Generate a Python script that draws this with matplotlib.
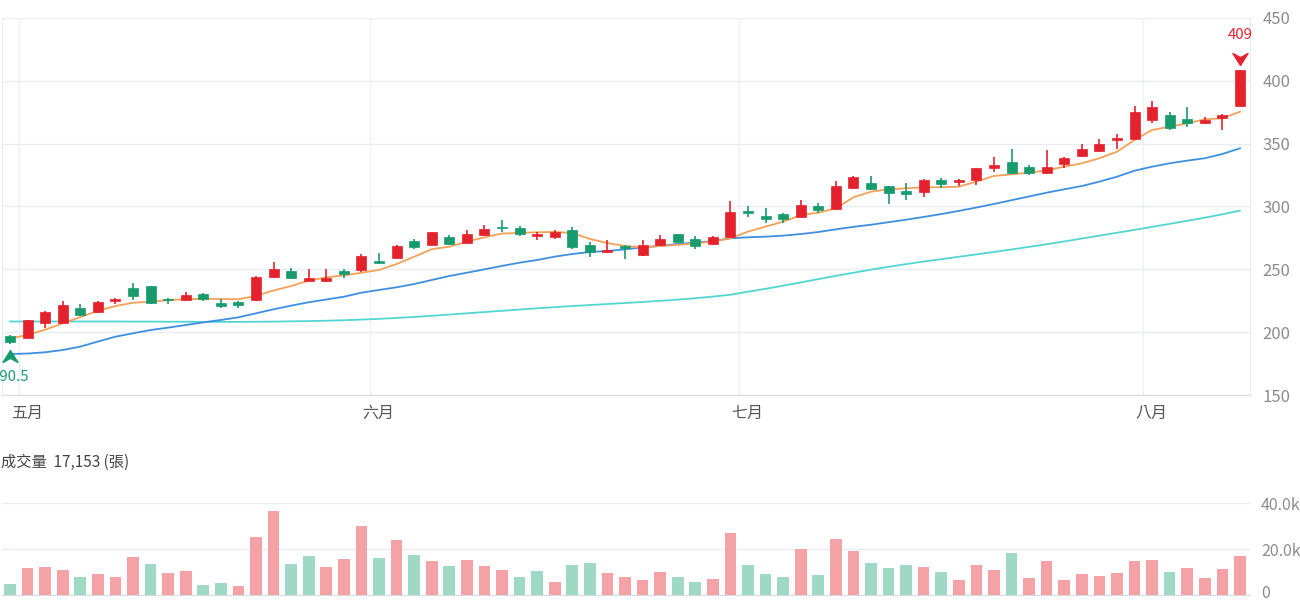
import numpy as np
import matplotlib
matplotlib.use("Agg")
import matplotlib.pyplot as plt
from matplotlib.path import Path
from matplotlib.ticker import FuncFormatter
from matplotlib.transforms import ScaledTranslation, offset_copy

plt.rcParams["font.family"] = ["Noto Sans CJK TC", "DejaVu Sans"]

# 日K資料 (4/30 ~ 8/8)
opens = [197, 195.5, 207, 207.5, 219, 216, 224.5, 235, 236.5, 226.5,
         225.5, 230, 223, 224, 225.5, 244, 248.5, 241, 240.5, 249,
         249.5, 257, 259, 272.5, 269.5, 276, 271, 277.5, 284, 282.5,
         276.5, 276, 281, 269.5, 263.5, 268.5, 261.5, 269.5, 278, 274.5,
         270, 276, 296.5, 292.5, 294, 292, 300, 298, 314.5, 318.5,
         316, 312.5, 311.5, 321, 319.5, 321, 330.5, 335.5, 331.5, 327,
         334, 340, 344.5, 353, 354, 368.5, 373, 369.5, 366.5, 370.5,
         380]
highs = [197.5, 210, 217, 225, 222.5, 225, 227, 239, 237, 227,
         232, 231, 226, 225, 245, 256, 251, 250, 250, 250,
         262.5, 263, 269, 274.5, 280, 277, 281, 285, 289, 284.5,
         280, 281, 284, 272, 273, 269, 273, 277, 278.5, 276.5,
         276.5, 304, 300, 298.5, 294.5, 305.5, 303, 320, 324, 324,
         316.5, 319, 321.5, 322.5, 321.5, 331, 339.5, 346, 333, 345,
         339, 350, 353.5, 358, 380, 384, 375, 379, 371, 373.5,
         409]
lows = [190.5, 195, 203, 207, 213, 215.5, 222.5, 225.5, 222.5, 222.5,
        225, 225, 219.5, 219.5, 225, 243.5, 242, 240.5, 240, 243,
        248, 254, 258, 266, 269, 269, 270, 276.5, 280, 276.5,
        273.5, 274, 266.5, 260, 263, 258, 261, 269, 271.5, 266.5,
        269.5, 275.5, 291.5, 287, 286.5, 291.5, 294.5, 297, 314, 313,
        302, 305, 307.5, 314.5, 316, 317, 327.5, 325.5, 325, 325.5,
        330.5, 339, 343.5, 346, 353.5, 366.5, 361, 363, 365.5, 361,
        380]
closes = [192, 209.5, 216, 221.5, 214, 224, 226.5, 229, 223.5, 225.5,
          229.5, 226, 220.5, 221.5, 244, 250.5, 243.5, 243, 243.5, 246.5,
          260.5, 255, 268.5, 268, 279.5, 270, 278.5, 282, 282.5, 278,
          277.8, 280, 268, 263.5, 265, 267, 269.5, 274, 272, 268.5,
          276, 295.5, 295, 290, 289.8, 301, 297.5, 316, 323.5, 314,
          310.5, 310, 321, 318, 321, 330.5, 333, 326.5, 327, 331.5,
          338.5, 345.5, 349.5, 354.5, 375.5, 379, 362.5, 366.5, 368.5, 372.5,
          409]
prev_close = 195

# 成交量 (張)
volumes = [4600, 11600, 12100, 11000, 7700, 9100, 7800, 16500, 13600, 9700,
           10300, 4500, 5100, 4000, 25300, 36400, 13600, 16900, 12100, 15500,
           29900, 16000, 24100, 17500, 14700, 12600, 15200, 12600, 10700, 7800,
           10500, 5500, 13100, 13700, 9500, 7700, 6700, 10100, 7700, 5500,
           6800, 27000, 13000, 9100, 7800, 19800, 8800, 24300, 19200, 13900,
           11600, 12900, 12300, 10000, 6500, 13100, 10800, 18300, 7200, 14600,
           6400, 9100, 8400, 9700, 15000, 15200, 10000, 11600, 7200, 11300,
           17153]

# 均線
ma_short = [195, 197.8, 202, 207, 212, 217, 220.8, 223.4, 224.2, 225.6,
            226.2, 226.6, 226.4, 226.2, 228.8, 233.2, 236.7, 241, 243.6, 245.2,
            247.3, 249.5, 254.2, 260, 266, 268, 272, 275.5, 278.5, 279,
            279.5, 279.8, 278.9, 274.2, 270.9, 268.6, 267.5, 268.6, 269.4, 270.7,
            272, 274.7, 280, 284, 287.9, 293.2, 295.1, 298.5, 307.3, 311.8,
            313.7, 314.5, 315.3, 315.3, 315.8, 319.8, 324.3, 325.6, 326.9, 328.8,
            331.7, 334.4, 338.4, 343.6, 352.9, 360.9, 363.5, 366.2, 369.4, 370.2,
            375.4]
ma_mid = [182.6, 183, 184, 185.8, 188.5, 192.5, 196.4, 199.1, 201.7, 203.6,
          205.7, 207.8, 209.7, 211.8, 215, 218.2, 221.1, 223.8, 226, 228.2,
          231.4, 233.6, 235.7, 238.3, 241.5, 244.7, 247.3, 250, 252.7, 255.3,
          257.4, 260.1, 262.2, 263.8, 264.6, 265.9, 267.5, 268.6, 270.2, 271.2,
          272.5, 274.7, 275.5, 276, 276.8, 278.1, 279.7, 281.8, 283.8, 285.5,
          287.5, 289.5, 291.7, 294, 296.5, 299.2, 302, 305, 308, 311,
          313.7, 316.3, 319.8, 323.7, 328.5, 331.7, 334.4, 336.5, 338.4, 341.8,
          346.3]
ma_long = [208.5, 208.5, 208.5, 208.5, 208.5, 208.5, 208.5, 208.4, 208.4, 208.3,
           208.3, 208.2, 208.2, 208.2, 208.3, 208.4, 208.6, 208.8, 209.1, 209.5,
           210, 210.6, 211.3, 212.1, 213, 214, 215, 216, 217, 218,
           219, 219.9, 220.8, 221.6, 222.4, 223.2, 224, 224.9, 225.9, 227,
           228.3, 229.8, 232.2, 234.5, 237, 239.6, 242.2, 244.8, 247.3, 249.7,
           252, 254.2, 256.2, 258.1, 260, 261.9, 263.8, 265.8, 267.9, 270,
           272.2, 274.5, 276.8, 279.1, 281.4, 283.8, 286.2, 288.6, 291.1, 293.8,
           296.7]

month_labels = ["五月", "六月", "七月", "八月"]
month_pos = [0.5, 20.5, 41.5, 64.5]

RED = "#e3222e"
GREEN = "#179b6c"
RED_V = "#f4a2a6"
GREEN_V = "#9fd8c3"
GRID = "#e9edf3"
LABEL = "#8c8c8c"

W, H = 1300, 600
fig = plt.figure(figsize=(13, 6), dpi=100)


def px_axes(x0, y0, x1, y1):
    return fig.add_axes([x0 / W, 1 - y1 / H, (x1 - x0) / W, (y1 - y0) / H])


o = np.array(opens)
h = np.array(highs)
l = np.array(lows)
c = np.array(closes)
x = np.arange(len(o))
up = c >= o

# ---- 價格 ----
ax = px_axes(2, 18, 1250, 395)
ax.set_xlim(-0.455, 70.57)
ax.set_ylim(150, 450)

ax.plot(x, ma_long, color="#52d6d2", lw=1.3, zorder=2)
ax.plot(x, ma_mid, color="#3f8fe0", lw=1.3, zorder=2)
ax.plot(x, ma_short, color="#f5a158", lw=1.3, zorder=2)

colors = np.where(up, RED, GREEN)
ax.vlines(x, l, h, colors=colors, lw=1.2, zorder=3)
body = np.maximum(np.abs(c - o), 0.7)
ax.bar(x, body, bottom=np.minimum(o, c), width=0.57, color=colors,
       edgecolor=colors, lw=0.5, zorder=4)

ax.set_yticks(np.arange(150, 451, 50))
ax.yaxis.tick_right()
ax.tick_params(axis="y", length=0, pad=9, labelsize=12, labelcolor=LABEL)
ax.set_xticks(month_pos)
ax.set_xticklabels(month_labels)
ax.tick_params(axis="x", length=0, pad=7, labelsize=11.5, labelcolor="#555555")
for lab in ax.get_xticklabels():
    lab.set_transform(lab.get_transform() + ScaledTranslation(0.08, 0, fig.dpi_scale_trans))
ax.grid(axis="y", color=GRID, lw=1)
ax.grid(axis="x", color="#eef0f4", lw=1)
ax.set_axisbelow(True)
ax.spines["top"].set_visible(False)
for s in ("left", "right"):
    ax.spines[s].set_color("#e8ebf0")
ax.spines["bottom"].set_color("#d6dae1")

# 最高 / 最低標記
down_arrow = Path([(-1, 0.8), (0, -0.8), (1, 0.8), (0, 0.25), (-1, 0.8)],
                  [Path.MOVETO, Path.LINETO, Path.LINETO, Path.LINETO, Path.CLOSEPOLY])
up_arrow = Path([(-1, -0.8), (0, 0.8), (1, -0.8), (0, -0.25), (-1, -0.8)],
                [Path.MOVETO, Path.LINETO, Path.LINETO, Path.LINETO, Path.CLOSEPOLY])
hi_i = int(np.argmax(h))
lo_i = int(np.argmin(l))
ax.plot(hi_i, h[hi_i], marker=down_arrow, ms=10.8, color=RED, clip_on=False,
        transform=offset_copy(ax.transData, fig, y=10.5, units="dots"), zorder=5)
ax.annotate(f"{h[hi_i]:g}", (hi_i, h[hi_i]), xytext=(0, 35 * 0.72), textcoords="offset points",
            ha="center", va="center", color=RED, fontsize=10.8, annotation_clip=False)
ax.plot(lo_i, l[lo_i], marker=up_arrow, ms=10.8, color=GREEN, clip_on=False,
        transform=offset_copy(ax.transData, fig, y=-11.5, units="dots"), zorder=5)
# 最低價標籤貼齊左緣, 和原圖一樣左半被裁掉
ax.annotate(f"{l[lo_i]:g}", (lo_i, l[lo_i]), xytext=(0, -33 * 0.72), textcoords="offset points",
            ha="center", va="center", color=GREEN, fontsize=10.8, annotation_clip=False)

# ---- 成交量 ----
axv = px_axes(2, 503, 1250, 595)
axv.set_xlim(ax.get_xlim())
axv.set_ylim(0, 40000)
chg = np.diff(c, prepend=prev_close)
vcolors = np.where(chg > 0, RED_V, GREEN_V)
axv.bar(x, volumes, width=0.66, color=vcolors, zorder=3)
axv.set_yticks([0, 20000, 40000])
axv.yaxis.set_major_formatter(FuncFormatter(lambda v, p: "0" if v == 0 else f"{v / 1000:.1f}k"))
axv.yaxis.tick_right()
axv.tick_params(axis="y", length=0, pad=8, labelsize=11.5, labelcolor=LABEL)
axv.set_xticks([])
axv.grid(axis="y", color=GRID, lw=1)
axv.set_axisbelow(True)
for s in ("top", "left", "right"):
    axv.spines[s].set_visible(False)
axv.spines["bottom"].set_color("#d6dae1")
fig.canvas.draw()
zero_lab = axv.get_yticklabels()[0]
zero_lab.set_verticalalignment("bottom")
zero_lab.set_transform(zero_lab.get_transform() + ScaledTranslation(0, -0.07, fig.dpi_scale_trans))

fig.text(1 / W, 1 - 462 / H, f"成交量  {volumes[-1]:,} (張)", fontsize=11,
         color="#444444", ha="left", va="center")

fig.savefig("out.png", dpi=100)
